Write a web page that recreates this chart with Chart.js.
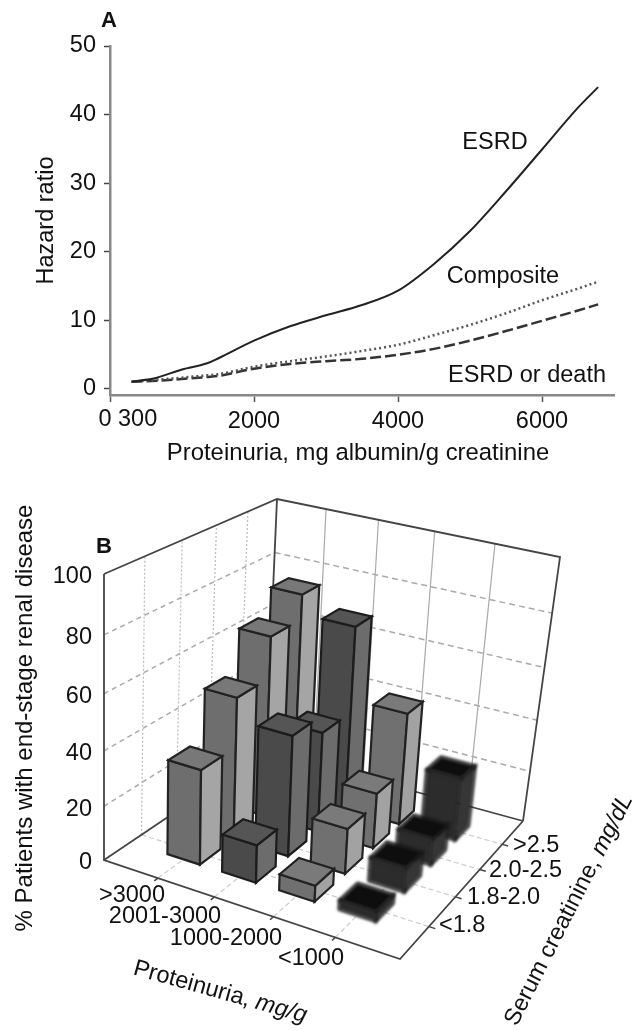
<!DOCTYPE html>
<html>
<head>
<meta charset="utf-8">
<style>
  html, body { margin: 0; background: #fff; }
  canvas { position: absolute; left: 0; }
  #chartA { top: 0; }
  #chartB { top: 470px; }
</style>
<script src="https://cdn.jsdelivr.net/npm/chart.js@4"></script>
</head>
<body>
<canvas id="chartA" width="638" height="470" style="width:638px;height:470px"></canvas>
<canvas id="chartB" width="638" height="560" style="width:638px;height:560px"></canvas>
<script>
// Panel A values
const proteinuriaMg = [300, 650, 1000, 1350, 1500, 2000, 2500, 3000, 3500, 4000, 4500, 5000, 5500, 6000, 6500, 6780];
const esrd          = [1, 1.6, 2.8, 3.7, 4.4, 7, 9.1, 10.7, 12.2, 14.3, 18.2, 23, 28.8, 34.9, 41, 44];
const composite     = [1, 1.3, 1.6, 1.95, 2.1, 3.2, 4, 4.7, 5.5, 6.4, 7.8, 9.3, 11, 12.9, 14.6, 15.6];
const esrdOrDeath   = [1, 1.15, 1.4, 1.7, 1.85, 2.9, 3.6, 4, 4.35, 4.95, 5.8, 7, 8.4, 9.9, 11.4, 12.3];
const hazardTicks = [0, 10, 20, 30, 40, 50];
const mgTicks = [0, 2000, 4000, 6000];

// Panel B values, one list per proteinuria group, in creatinine order
const proteinuriaGroups = ['>3000', '2001-3000', '1000-2000', '<1000'];
const creatinineGroups = ['<1.8', '1.8-2.0', '2.0-2.5', '>2.5'];
const over3000 = [35, 53, 68, 77];
const from2001 = [14, 45, 38, 70];
const from1000 = [6, 17, 21, 43];
const under1000 = [3.5, 9, 10, 24];
const percentTicks = [0, 20, 40, 60, 80, 100];

const FONT = '"Liberation Sans", Arial, sans-serif';
const TEXT_SIZE = 23.5;

function drawText(ctx, text, x, y, opts = {}) {
  ctx.save();
  ctx.translate(x, y);
  ctx.rotate((opts.angle || 0) * Math.PI / 180);
  ctx.font = opts.font || `${TEXT_SIZE}px ${FONT}`;
  ctx.fillStyle = '#111';
  ctx.textAlign = opts.align || 'center';
  ctx.textBaseline = 'middle';
  ctx.fillText(text, 0, 0);
  ctx.restore();
}

const panelAText = {
  id: 'panelAText',
  afterDraw(chart) {
    const ctx = chart.ctx;
    const x = chart.scales.x;
    const y = chart.scales.y;
    drawText(ctx, 'A', 109, 21, { font: `bold 22px ${FONT}` });
    // the 0 and 300 labels sit side by side, pushed apart from their values
    drawText(ctx, '0', x.getPixelForValue(0) - 5, 420);
    drawText(ctx, '300', x.getPixelForValue(300) + 6, 420);
    drawText(ctx, 'Proteinuria, mg albumin/g creatinine', 358, 453, { font: `23.9px ${FONT}` });
    drawText(ctx, 'ESRD', 495, y.getPixelForValue(35.9));
    drawText(ctx, 'Composite', 503, y.getPixelForValue(16.3));
    drawText(ctx, 'ESRD or death', 527, y.getPixelForValue(1.9));
  }
};

new Chart(document.getElementById('chartA'), {
  type: 'line',
  data: {
    labels: proteinuriaMg,
    datasets: [
      { label: 'ESRD', data: esrd, borderColor: '#222', borderWidth: 2 },
      { label: 'Composite', data: composite, borderColor: '#555', borderWidth: 2.5, borderDash: [2, 3] },
      { label: 'ESRD or death', data: esrdOrDeath, borderColor: '#333', borderWidth: 2.5, borderDash: [11, 4] }
    ]
  },
  options: {
    responsive: false,
    animation: false,
    layout: { padding: { top: 46, right: 24, left: 0, bottom: 0 } },
    elements: { point: { radius: 0 }, line: { cubicInterpolationMode: 'monotone' } },
    plugins: { legend: { display: false }, tooltip: { enabled: false } },
    scales: {
      x: {
        type: 'linear',
        min: 0,
        max: 7000,
        afterBuildTicks: s => { s.ticks = mgTicks.map(v => ({ value: v })); },
        afterFit: s => { s.height = 75; },
        border: { color: '#888', width: 2.5 },
        grid: { drawOnChartArea: false, tickLength: 7, tickColor: '#555', tickWidth: 1.5 },
        ticks: {
          maxRotation: 0,
          padding: 5,
          color: '#111',
          font: { family: FONT, size: TEXT_SIZE },
          callback: v => (v === 0 ? '' : String(v))
        }
      },
      y: {
        min: -0.93,
        max: 50,
        afterBuildTicks: s => { s.ticks = hazardTicks.map(v => ({ value: v })); },
        afterFit: s => { s.width = 110; },
        border: { color: '#888', width: 2.5 },
        grid: { drawOnChartArea: false, tickLength: 6, tickColor: '#444', tickWidth: 1.5 },
        ticks: { padding: 8, color: '#111', font: { family: FONT, size: TEXT_SIZE } },
        title: {
          display: true,
          text: 'Hazard ratio',
          color: '#111',
          font: { family: FONT, size: TEXT_SIZE },
          padding: { top: 32, bottom: 0 }
        }
      }
    }
  },
  plugins: [panelAText]
});

// Panel B: the box of the 3D plot, as seen on the page
const floorQuad = [[104, 860], [400, 959], [523, 821], [266, 751]];
const topQuad = [[104, 574], [428, 668], [560, 557], [277, 499]];
const BAR_HALF = 0.3;
const HEIGHT_BEND = 0.08;

function quadMap(q) {
  const [[x0, y0], [x1, y1], [x2, y2], [x3, y3]] = q;
  const dx1 = x1 - x2, dx2 = x3 - x2, sx = x0 - x1 + x2 - x3;
  const dy1 = y1 - y2, dy2 = y3 - y2, sy = y0 - y1 + y2 - y3;
  const den = dx1 * dy2 - dx2 * dy1;
  const g = (sx * dy2 - dx2 * sy) / den;
  const h = (dx1 * sy - sx * dy1) / den;
  const a = x1 - x0 + g * x1, b = x3 - x0 + h * x3;
  const d = y1 - y0 + g * y1, e = y3 - y0 + h * y3;
  return (u, v) => {
    const w = g * u + h * v + 1;
    return [(a * u + b * v + x0) / w, (d * u + e * v + y0) / w];
  };
}
const onFloor = quadMap(floorQuad);
const onTop = quadMap(topQuad);

// scale fractions along proteinuria, creatinine and percent to a page point
function place(u, v, t) {
  const p = onFloor(u, v);
  const q = onTop(u, v);
  const k = t / (1 + HEIGHT_BEND * (1 - t));
  return [p[0] + (q[0] - p[0]) * k, p[1] + (q[1] - p[1]) * k];
}

function poly(ctx, pts, fill, stroke, width) {
  ctx.beginPath();
  pts.forEach((p, i) => (i ? ctx.lineTo(p[0], p[1]) : ctx.moveTo(p[0], p[1])));
  if (fill) {
    ctx.closePath();
    ctx.fillStyle = fill;
    ctx.fill();
  }
  if (stroke) {
    ctx.strokeStyle = stroke;
    ctx.lineWidth = width;
    ctx.stroke();
  }
}

function gridLine(ctx, a, b, color, dash, width) {
  ctx.setLineDash(dash);
  poly(ctx, [a, b], null, color, width);
  ctx.setLineDash([]);
}

const box3d = {
  id: 'box3d',
  afterDatasetsDraw(chart) {
    const ctx = chart.ctx;
    const { x, depth, y } = chart.scales;
    const fu = val => (x.getPixelForValue(val) - x.left) / x.width;
    const fv = val => (depth.getPixelForValue(val) - depth.left) / depth.width;
    const ft = val => (y.bottom - y.getPixelForValue(val)) / y.height;

    ctx.save();
    ctx.translate(0, -470);

    // walls and floor
    [1, 2, 3, 4].forEach(i => {
      gridLine(ctx, place(0, fv(i), 0), place(0, fv(i), 1), '#bbb', [2, 2], 1.2);
      gridLine(ctx, place(fu(i), 1, 0), place(fu(i), 1, 1), '#aaa', [], 1.2);
      gridLine(ctx, place(fu(i), 0, 0), place(fu(i), 1, 0), '#ccc', [5, 3], 1.2);
      gridLine(ctx, place(0, fv(i), 0), place(1, fv(i), 0), '#ccc', [5, 3], 1.2);
    });
    percentTicks.slice(1, 5).forEach(p => {
      gridLine(ctx, place(0, 0, ft(p)), place(0, 1, ft(p)), '#aaa', [5, 4], 1.5);
      gridLine(ctx, place(0, 1, ft(p)), place(1, 1, ft(p)), '#aaa', [6, 4], 1.5);
    });
    poly(ctx, [place(0, 0, 1), place(0, 0, 0), place(1, 0, 0), place(1, 1, 0)], null, '#444', 1.8);
    poly(ctx, [place(0, 0, 1), place(0, 1, 1), place(1, 1, 1), place(1, 1, 0)], null, '#444', 1.8);
    poly(ctx, [place(0, 1, 0), place(0, 1, 1)], null, '#444', 1.8);
    poly(ctx, [place(0, 0, 0), place(0, 1, 0)], null, '#444', 1.8);
    poly(ctx, [place(0, 1, 0), place(1, 1, 0)], null, '#444', 1.8);
    [1, 2, 3, 4].forEach(i => {
      poly(ctx, [place(fu(i), 0, 0), place(fu(i), -0.02, 0)], null, '#444', 1.5);
      poly(ctx, [place(1, fv(i), 0), place(1.02, fv(i), 0)], null, '#444', 1.5);
    });

    // bars, far ones first
    chart.data.datasets.forEach(ds => {
      ctx.filter = ds.blur ? `blur(${ds.blur}px)` : 'none';
      for (let j = ds.data.length - 1; j >= 0; j--) {
        const d = ds.data[j];
        const u0 = fu(d.x - BAR_HALF), u1 = fu(d.x + BAR_HALF);
        const v0 = fv(j + 1 - BAR_HALF), v1 = fv(j + 1 + BAR_HALF);
        const t = ft(d.y);
        const line = ds.edgeColor;
        poly(ctx, [place(u0, v0, 0), place(u1, v0, 0), place(u1, v0, t), place(u0, v0, t)], ds.frontColor, line, 2.2);
        poly(ctx, [place(u1, v0, 0), place(u1, v1, 0), place(u1, v1, t), place(u1, v0, t)], ds.sideColor, line, 2.2);
        poly(ctx, [place(u0, v0, t), place(u1, v0, t), place(u1, v1, t), place(u0, v1, t)], ds.topColor, line, 2.2);
      }
    });
    ctx.filter = 'none';

    // labels
    drawText(ctx, 'B', 104, 547, { font: `bold 22px ${FONT}` });
    percentTicks.forEach(p => {
      drawText(ctx, String(p), 92, place(0, 0, ft(p))[1] + 3, { align: 'right' });
    });
    const groupX = [[132, 896], [165, 917], [226, 939], [311, 959]];
    proteinuriaGroups.forEach((s, i) => drawText(ctx, s, groupX[i][0], groupX[i][1]));
    const creatX = [[439, 926], [467, 898], [489, 871], [513, 846]];
    creatinineGroups.forEach((s, i) => drawText(ctx, s, creatX[i][0], creatX[i][1], { align: 'left' }));
    drawText(ctx, '% Patients with end-stage renal disease', 25, 718, { angle: -90, font: `24px ${FONT}` });

    // axis titles with an italic unit
    const mixed = (a, b, px, py, angle) => {
      ctx.save();
      ctx.translate(px, py);
      ctx.rotate(angle * Math.PI / 180);
      ctx.font = `${TEXT_SIZE}px ${FONT}`;
      const w = ctx.measureText(a).width;
      drawText(ctx, a, 0, 0, { align: 'left' });
      drawText(ctx, b, w, 0, { align: 'left', font: `italic ${TEXT_SIZE}px ${FONT}` });
      ctx.restore();
    };
    mixed('Proteinuria, ', 'mg/g', 134, 968, 15.6);
    mixed('Serum creatinine, ', 'mg/dL', 511, 1024, -63);
    ctx.restore();
  }
};

const groupStyles = [
  { frontColor: '#6e6e6e', sideColor: '#a5a5a5', topColor: '#787878', edgeColor: '#222' },
  { frontColor: '#4a4a4a', sideColor: '#6c6c6c', topColor: '#555555', edgeColor: '#1c1c1c' },
  { frontColor: '#707070', sideColor: '#a2a2a2', topColor: '#7a7a7a', edgeColor: '#222' },
  { frontColor: '#2c2c2c', sideColor: '#363636', topColor: '#0e0e0e', edgeColor: '#1a1a1a', blur: 1.5 }
];

new Chart(document.getElementById('chartB'), {
  type: 'scatter',
  data: {
    datasets: [over3000, from2001, from1000, under1000].map((values, i) => ({
      label: proteinuriaGroups[i],
      data: values.map(v => ({ x: i + 1, y: v })),
      pointRadius: 0,
      ...groupStyles[i]
    }))
  },
  options: {
    responsive: false,
    animation: false,
    plugins: { legend: { display: false }, tooltip: { enabled: false } },
    scales: {
      x: { type: 'linear', min: 0, max: 5, display: false },
      depth: { type: 'linear', axis: 'x', position: 'bottom', min: 0, max: 5, display: false },
      y: { type: 'linear', min: 0, max: 100, display: false }
    }
  },
  plugins: [box3d]
});
</script>
</body>
</html>
